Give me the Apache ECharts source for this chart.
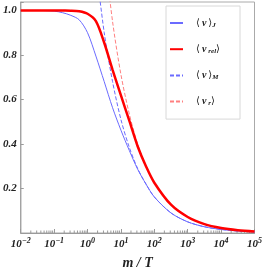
<!DOCTYPE html>
<html><head><meta charset="utf-8">
<script src="https://cdn.jsdelivr.net/npm/echarts@6/dist/echarts.min.js"></script>
<style>html,body{margin:0;padding:0;background:#fff}#c{width:265px;height:275px}</style>
</head><body><div id="c"></div>
<script>
// m/T sample points
const mT = [0.01, 0.0316, 0.1, 0.178, 0.316, 0.562, 1, 1.78, 3.16, 5.62, 10, 17.8, 31.6, 56.2, 100, 316, 1000, 3162, 10000, 31623, 100000];
// <v>_J (blue, thin)
const vJ   = [1.000, 1.000, 0.997, 0.990, 0.978, 0.958, 0.900, 0.795, 0.680, 0.563, 0.462, 0.371, 0.287, 0.220, 0.162, 0.090, 0.050, 0.028, 0.016, 0.009, 0.005];
// <v_rel> (red, thick)
const vRel = [1.000, 1.000, 1.000, 0.9995, 0.999, 0.996, 0.985, 0.952, 0.855, 0.733, 0.618, 0.505, 0.390, 0.300, 0.226, 0.127, 0.072, 0.040, 0.0225, 0.0127, 0.0072];
// <v>_M (blue, dashed) - from m/T = 1.78
const mT_M = [1.78, 3.16, 5.62, 10, 17.8, 31.6, 56.2, 100, 316, 1000, 3162, 10000, 31623, 100000];
const vM   = [1.200, 0.900, 0.680, 0.510, 0.385, 0.290, 0.220, 0.162, 0.090, 0.050, 0.028, 0.016, 0.009, 0.005];
// <v_r> (red, dashed) - from m/T = 3.16
const mT_r = [3.16, 5.62, 10, 17.8, 31.6, 56.2, 100, 316, 1000, 3162, 10000, 31623, 100000];
const vR   = [1.270, 0.950, 0.712, 0.535, 0.400, 0.301, 0.226, 0.127, 0.071, 0.040, 0.0226, 0.0127, 0.0071];
// axis ticks
const decadeExps = [-2, -1, 0, 1, 2, 3, 4, 5];
const yTicks = [0.2, 0.4, 0.6, 0.8, 1.0];
const names = ['vJ', 'vrel', 'vM', 'vr'];

const pair = (xs, ys) => xs.map((x, i) => [x, ys[i]]);
const minorTicks = [];
for (let k = 0; k < decadeExps.length - 1; k++) {
  for (let m = 2; m <= 9; m++) minorTicks.push([m * Math.pow(10, decadeExps[k]), 0]);
}
const serif = "'Liberation Serif','DejaVu Serif',serif";
const gray = '#9a9a9a';
const blue = '#6b6bff';
const red = '#ff0000';
const redDash = '#ff7f7f';

const chart = echarts.init(document.getElementById('c'), null, {renderer: 'canvas'});
chart.setOption({
  animation: false,
  grid: {left: 20, right: 8, top: 2, bottom: 37, show: true, borderColor: '#aaaaaa', borderWidth: 1, containLabel: false},
  xAxis: {
    type: 'log', logBase: 10, min: 0.01, max: 100000,
    axisLine: {lineStyle: {color: gray}},
    axisTick: {inside: true, length: 4, lineStyle: {color: gray}},
    splitLine: {show: false},
    axisLabel: {
      margin: 4,
      formatter: v => {
        const e = Math.round(Math.log10(v));
        return '{b|10}{s|' + (e < 0 ? '\u2212' + (-e) : e) + '}';
      },
      rich: {
        b: {fontFamily: serif, fontSize: 11, fontStyle: 'italic', fontWeight: 'bold', color: '#222'},
        s: {fontFamily: serif, fontSize: 8, fontStyle: 'italic', fontWeight: 'bold', color: '#222', verticalAlign: 'top', padding: [0, 0, 6, 0]}
      }
    },
    name: 'm / T', nameLocation: 'middle', nameGap: 23,
    nameTextStyle: {fontFamily: serif, fontSize: 14, fontStyle: 'italic', fontWeight: 'bold', color: '#222'}
  },
  yAxis: {
    type: 'value', min: 0, max: 1.038, interval: 0.2,
    axisLine: {show: true, lineStyle: {color: gray}},
    axisTick: {show: true, inside: true, length: 3, lineStyle: {color: gray}},
    splitLine: {show: false},
    axisLabel: {
      margin: 4, fontFamily: serif, fontSize: 11, fontStyle: 'italic', fontWeight: 'bold', color: '#222',
      formatter: v => yTicks.some(t => Math.abs(t - v) < 1e-6) ? v.toFixed(1) : ''
    }
  },
  legend: {
    data: names, orient: 'vertical', left: 166, top: 6,
    padding: [12, 20, 12, 3], itemWidth: 13, itemHeight: 10, itemGap: 15.7,
    borderColor: '#d8d8d8', borderWidth: 1, backgroundColor: '#fff',
    itemStyle: {opacity: 0},
    formatter: n => ({
      vJ: '{a|\u27E8}{v|v}{a|\u27E9}{s|J}',
      vrel: '{a|\u27E8}{v|v}{s|rel}{a|\u27E9}',
      vM: '{a|\u27E8}{v|v}{a|\u27E9}{s|M}',
      vr: '{a|\u27E8}{v|v}{s|r}{a|\u27E9}'
    })[n],
    textStyle: {
      padding: [0, 0, 0, 8],
      rich: {
        a: {fontFamily: serif, fontSize: 10, color: '#222'},
        v: {fontFamily: serif, fontSize: 10, fontStyle: 'italic', fontWeight: 'bold', color: '#222', padding: [0, 2, 0, 2]},
        s: {fontFamily: serif, fontSize: 7, fontStyle: 'italic', fontWeight: 'bold', color: '#222', verticalAlign: 'bottom', padding: [4, 0, 0, 0]}
      }
    }
  },
  series: [
    {name: 'vJ', type: 'line', data: pair(mT, vJ), smooth: 0.3, symbol: 'none', lineStyle: {color: blue, width: 1}, itemStyle: {color: blue}, z: 3},
    {name: 'vrel', type: 'line', data: pair(mT, vRel), smooth: 0.3, symbol: 'none', lineStyle: {color: red, width: 2.5}, itemStyle: {color: red}, z: 4},
    {name: 'vM', type: 'line', data: pair(mT_M, vM), smooth: 0.3, symbol: 'none', lineStyle: {color: blue, width: 1, type: [4, 2]}, itemStyle: {color: blue}, z: 2},
    {name: 'vr', type: 'line', data: pair(mT_r, vR), smooth: 0.3, symbol: 'none', lineStyle: {color: redDash, width: 1, type: [4, 2]}, itemStyle: {color: redDash}, z: 2},
    {name: 'minor', type: 'custom', data: minorTicks, silent: true, clip: false,
      renderItem: (params, api) => {
        const p = api.coord([api.value(0), 0]);
        return {type: 'line', shape: {x1: p[0], y1: p[1], x2: p[0], y2: p[1] - 2.5}, style: {stroke: gray, lineWidth: 1}};
      }}
  ]
});
</script></body></html>
